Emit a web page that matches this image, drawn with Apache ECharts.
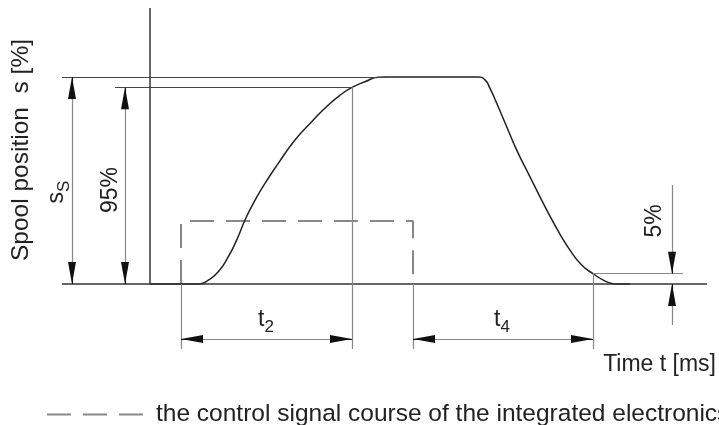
<!DOCTYPE html>
<html><head><meta charset="utf-8">
<script src="https://cdn.jsdelivr.net/npm/echarts@6/dist/echarts.min.js"></script>
<style>html,body{margin:0;padding:0;background:#fff}#c{width:719px;height:425px}</style>
</head><body><div id="c"></div>
<script>
// Spool position curve: time (arbitrary ms units) and position (%)
const spoolTime = [0, 4.83, 5.83, 6.83, 7.83, 8.67, 9.5, 10.33, 11.5, 12.83, 14.5, 16.17, 17.83, 19.17, 20.2, 21.5, 22.83, 23.67,
                   32.83, 33.5, 34.0, 34.67, 35.67, 36.67, 38.0, 39.33, 40.67, 42.0, 43.17, 44.3, 45.33, 46.17, 46.67, 48.0];
const spoolPos  = [0, 0, 1.9, 5.9, 13.2, 21.3, 30.9, 39.0, 48.6, 58.3, 69.6, 78.4, 86.5, 91.8, 95, 97.7, 99.9, 100,
                   100, 98.6, 94.5, 87.3, 76.0, 64.7, 51.8, 39.0, 26.9, 16.4, 9.2, 5, 1.9, 0.3, 0, 0];
// Control signal (dashed)
const signalTime  = [3.1, 3.1, 26.3, 26.3];
const signalLevel = [0, 30.4, 30.4, 0];
// Characteristic times and levels
const t2Span = [3.1, 20.2];
const t4Span = [26.3, 44.3];
const levels = [100, 95, 5];

const legendName = 'the control signal course of the integrated electronics';
const FONT = '"Liberation Sans", Arial, Helvetica, sans-serif';
const txt = '#222';

const W = 719, H = 425;
const X = [-15, 56.9], Y = [-68.1, 137.2];
const pxX = W / (X[1] - X[0]), pxY = H / (Y[1] - Y[0]);

const chart = echarts.init(document.getElementById('c'));
const curve = spoolTime.map((t, i) => [t, spoolPos[i]]);
const signal = signalTime.map((t, i) => [t, signalLevel[i]]);

const thin = {color: '#888', width: 1.2, type: 'solid'};
const mid = {color: '#444', width: 1.2, type: 'solid'};
const dark = {color: '#333', width: 1.5, type: 'solid'};
const black = {color: '#111', width: 1, type: 'solid'};
const arrowSym = {symbol: 'triangle', symbolSize: [8, 22], symbolOffset: [0, 11]};

function seg(a, b, style) {
  return [{coord: a, symbol: 'none', lineStyle: style}, {coord: b, symbol: 'none'}];
}
// short black piece ending at the tip, carrying the arrow head
function arrowAt(tip, other) {
  const dxp = (other[0] - tip[0]) * pxX, dyp = (other[1] - tip[1]) * pxY;
  const len = Math.sqrt(dxp * dxp + dyp * dyp), L = 18;
  const back = [tip[0] + dxp / len * L / pxX, tip[1] + dyp / len * L / pxY];
  return [{coord: back, symbol: 'none', lineStyle: black}, Object.assign({coord: tip}, arrowSym)];
}
function dim(a, b, both) {
  const out = [seg(a, b, thin), arrowAt(b, a)];
  if (both) out.push(arrowAt(a, b));
  return out;
}
const ext = -31.4, dimRow = -26.6;

const marks = [
  seg([-8.8, 0], [55.7, 0], dark),
  seg([-8.8, levels[0]], [t2Span[1] + 3.4, levels[0]], mid),
  seg([-3.5, levels[1]], [t2Span[1], levels[1]], mid),
  seg([t2Span[1], levels[1]], [t2Span[1], ext], thin),
  seg([t2Span[0], 0], [t2Span[0], ext], thin),
  seg([t4Span[0], 0], [t4Span[0], ext], thin),
  seg([t4Span[1], levels[2]], [t4Span[1], ext], thin),
  seg([t4Span[1], levels[2]], [53.3, levels[2]], thin)
].concat(
  dim([52.2, 47.8], [52.2, levels[2]], false),
  dim([52.2, -19.8], [52.2, 0], false),
  dim([-7.8, 0], [-7.8, levels[0]], true),
  dim([-2.5, 0], [-2.5, levels[1]], true),
  dim([t2Span[0], dimRow], [t2Span[1], dimRow], true),
  dim([t4Span[0], dimRow], [t4Span[1], dimRow], true)
);

const sub = () => ({
  a: {fontSize: 23, fontFamily: FONT, color: txt, lineHeight: 27, verticalAlign: 'top'},
  b: {fontSize: 17, fontFamily: FONT, color: txt, lineHeight: 27, verticalAlign: 'bottom'}
});
function label(x, y, text, rot, align, size) {
  return {type: 'text', x: x, y: y, rotation: rot || 0, silent: true,
    style: {text: text, font: (size || 23) + 'px ' + FONT, fill: txt, align: align || 'center', verticalAlign: 'middle', rich: sub()}};
}

chart.setOption({
  animation: false,
  grid: {left: 0, right: 0, top: 0, bottom: 0},
  xAxis: {type: 'value', min: X[0], max: X[1], show: false},
  yAxis: {type: 'value', min: Y[0], max: Y[1], show: false},
  legend: {
    data: [{name: legendName, icon: 'path://M0,0h24v2h-24z M36,0h24v2h-24z M72,0h24v2h-24z'}],
    left: 42, top: 397, selectedMode: false,
    itemWidth: 96, itemHeight: 2,
    textStyle: {fontSize: 24.5, fontFamily: FONT, color: txt, padding: [0, 0, 0, 8]}
  },
  series: [
    {
      type: 'line', name: 'axis', data: [[0, 0], [0, 133.3]], symbol: 'none', clip: false, silent: true,
      lineStyle: {color: '#333', width: 1.5},
      markLine: {silent: true, animation: false, label: {show: false}, emphasis: {disabled: true},
        symbol: ['none', 'none'], data: marks}
    },
    {
      type: 'line', name: legendName, data: signal, symbol: 'none', clip: false, silent: true,
      itemStyle: {color: '#888'},
      lineStyle: {color: '#888', width: 2, type: [24, 12]}
    },
    {
      type: 'line', name: 'spool', data: curve, symbol: 'none', clip: false, silent: true,
      smooth: 0.55,
      lineStyle: {color: '#222', width: 1.5}
    }
  ],
  graphic: [
    label(21, 150, 'Spool position  s [%]', Math.PI / 2, 'center', 24.5),
    label(59, 192, '{a|s}{b|S}', Math.PI / 2),
    label(111, 190, '95%', Math.PI / 2),
    label(655, 221, '5%', Math.PI / 2),
    label(266, 322, '{a|t}{b|2}'),
    label(502, 322, '{a|t}{b|4}'),
    label(716, 365, 'Time t [ms]', 0, 'right')
  ]
});
</script></body></html>
